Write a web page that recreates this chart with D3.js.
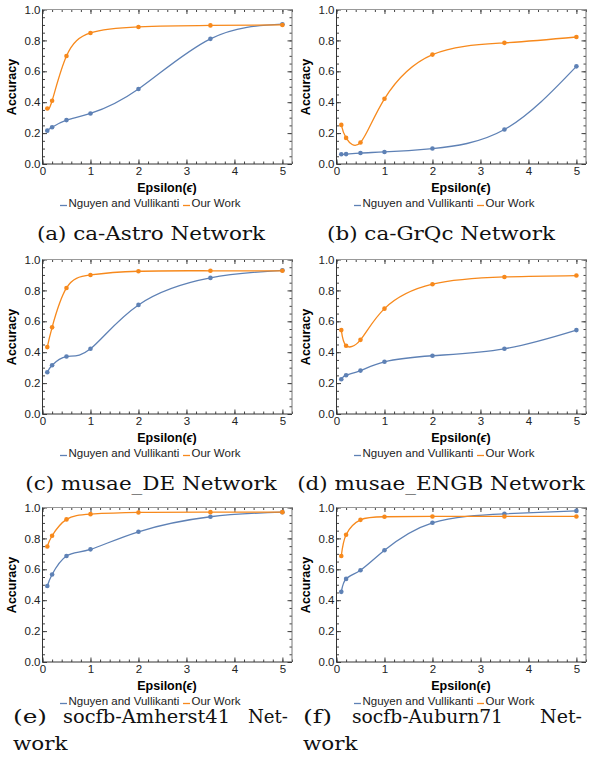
<!doctype html>
<html>
<head>
<meta charset="UTF-8">
<script src="https://cdn.jsdelivr.net/npm/d3@7/dist/d3.min.js"></script>
<style>
  body { margin: 0; background: #fff; }
  .tick text { font-family: "Liberation Sans", Arial, sans-serif; font-size: 11.5px; fill: #222; }
</style>
</head>
<body>
<svg id="fig" width="589" height="767"></svg>
<script>
// x values (privacy budget) shared by all panels
var epsilon = [0.1, 0.2, 0.5, 1, 2, 3.5, 5];

// accuracy
var astroNguyen   = [0.216, 0.238, 0.284, 0.327, 0.485, 0.810, 0.905];
var astroOurs     = [0.359, 0.409, 0.699, 0.848, 0.887, 0.897, 0.900];
var grqcNguyen    = [0.063, 0.064, 0.071, 0.078, 0.100, 0.223, 0.632];
var grqcOurs      = [0.253, 0.169, 0.139, 0.422, 0.708, 0.784, 0.822];
var deNguyen      = [0.270, 0.316, 0.372, 0.422, 0.706, 0.881, 0.930];
var deOurs        = [0.433, 0.561, 0.816, 0.900, 0.924, 0.927, 0.927];
var engbNguyen    = [0.225, 0.251, 0.281, 0.338, 0.377, 0.422, 0.543];
var engbOurs      = [0.543, 0.442, 0.480, 0.682, 0.840, 0.887, 0.896];
var amherstNguyen = [0.492, 0.566, 0.686, 0.729, 0.843, 0.940, 0.970];
var amherstOurs   = [0.748, 0.817, 0.923, 0.957, 0.968, 0.970, 0.970];
var auburnNguyen  = [0.454, 0.538, 0.594, 0.723, 0.901, 0.959, 0.978];
var auburnOurs    = [0.686, 0.824, 0.920, 0.940, 0.942, 0.942, 0.942];

var seriesNames = ["Nguyen and Vullikanti", "Our Work"];
var seriesColors = ["#5e81b5", "#f7891c"];

var yTicks = [0, 0.2, 0.4, 0.6, 0.8, 1.0];
var xTicks = [0, 1, 2, 3, 4, 5];

var panels = [
  {col: 0, row: 0, s: [astroNguyen, astroOurs], caption: ["(a) ca-Astro Network"]},
  {col: 1, row: 0, s: [grqcNguyen, grqcOurs], caption: ["(b) ca-GrQc Network"]},
  {col: 0, row: 1, s: [deNguyen, deOurs], caption: ["(c) musae_DE Network"]},
  {col: 1, row: 1, s: [engbNguyen, engbOurs], caption: ["(d) musae_ENGB Network"]},
  {col: 0, row: 2, s: [amherstNguyen, amherstOurs], caption: ["(e)", "socfb-Amherst41", "Net-", "work"]},
  {col: 1, row: 2, s: [auburnNguyen, auburnOurs], caption: ["(f)", "socfb-Auburn71", "Net-", "work"]}
];

var colX = [0, 294];
var rowY = [0, 250, 498];

var svg = d3.select("#fig");

function minorTicks(lo, hi, step) {
  var out = [];
  for (var v = lo; v <= hi + 1e-9; v += step) out.push(Math.round(v * 1000) / 1000);
  return out;
}

// widen the serif caption text a bit, the original font runs wider
function stretch(sel, w) {
  var len = w || sel.node().getComputedTextLength() * 1.16;
  sel.attr("textLength", len).attr("lengthAdjust", "spacingAndGlyphs");
}

function drawPanel(p) {
  var ox = colX[p.col], oy = rowY[p.row];
  var g = svg.append("g").attr("transform", "translate(" + ox + "," + oy + ")");

  var x = d3.scaleLinear().domain([0, 5.2]).range([42.5, 292]);
  var y = d3.scaleLinear().domain([0, 1]).range([164, 9.5]);

  var xMinor = minorTicks(0, 5.2, 0.2);
  var yMinor = minorTicks(0, 1, 0.05);

  // minor ticks, all four sides
  g.append("g").attr("transform", "translate(0,164)").call(d3.axisBottom(x).tickValues(xMinor).tickSize(-2.5).tickFormat(""));
  g.append("g").attr("transform", "translate(0,9.5)").call(d3.axisTop(x).tickValues(xMinor).tickSize(-2.5).tickFormat(""));
  g.append("g").attr("transform", "translate(42.5,0)").call(d3.axisLeft(y).tickValues(yMinor).tickSize(-2.5).tickFormat(""));
  g.append("g").attr("transform", "translate(292,0)").call(d3.axisRight(y).tickValues(yMinor).tickSize(-2.5).tickFormat(""));

  // major ticks with labels
  g.append("g").attr("transform", "translate(0,164)")
    .call(d3.axisBottom(x).tickValues(xTicks).tickSize(-4.5).tickPadding(3).tickFormat(d3.format("d")));
  g.append("g").attr("transform", "translate(42.5,0)")
    .call(d3.axisLeft(y).tickValues(yTicks).tickSize(-4.5).tickPadding(2).tickFormat(d3.format(".1f")));
  g.append("g").attr("transform", "translate(0,9.5)")
    .call(d3.axisTop(x).tickValues(xTicks).tickSize(-4.5).tickFormat(""));
  g.append("g").attr("transform", "translate(292,0)")
    .call(d3.axisRight(y).tickValues(yTicks).tickSize(-4.5).tickFormat(""));

  g.selectAll(".domain").remove();
  g.selectAll(".tick line").attr("stroke", "#444");

  // frame
  g.append("line").attr("x1", 42.5).attr("x2", 42.5).attr("y1", 9.5).attr("y2", 164).attr("stroke", "#333");
  g.append("line").attr("x1", 42.5).attr("x2", 292).attr("y1", 164).attr("y2", 164).attr("stroke", "#333");
  g.append("line").attr("x1", 42.5).attr("x2", 292).attr("y1", 9.5).attr("y2", 9.5).attr("stroke", "#999");
  g.append("line").attr("x1", 292).attr("x2", 292).attr("y1", 9.5).attr("y2", 164).attr("stroke", "#777");

  var line = d3.line().curve(d3.curveNatural).x(function(d) { return x(d[0]); }).y(function(d) { return y(d[1]); });

  p.s.forEach(function(vals, i) {
    var pts = epsilon.map(function(e, k) { return [e, vals[k]]; });
    g.append("path").attr("d", line(pts)).attr("fill", "none")
      .attr("stroke", seriesColors[i]).attr("stroke-width", 1.3);
    g.selectAll(null).data(pts).enter().append("circle")
      .attr("cx", function(d) { return x(d[0]); })
      .attr("cy", function(d) { return y(d[1]); })
      .attr("r", 2.3).attr("fill", seriesColors[i]);
  });

  // axis titles
  var xt = g.append("text").attr("x", 167).attr("y", 192).attr("text-anchor", "middle")
    .style("font-family", "Liberation Sans, Arial, sans-serif").style("font-weight", "bold").style("font-size", "12.5px");
  xt.append("tspan").text("Epsilon(");
  xt.append("tspan").style("font-style", "italic").text("\u03f5");
  xt.append("tspan").text(")");
  g.append("text").attr("transform", "translate(16,87) rotate(-90)").attr("text-anchor", "middle")
    .style("font-family", "Liberation Sans, Arial, sans-serif").style("font-weight", "bold").style("font-size", "12.5px")
    .text("Accuracy");

  // legend
  var lg = g.append("g").style("font-family", "Liberation Sans, Arial, sans-serif").style("font-size", "11.5px");
  var legX = [60, 183];
  seriesNames.forEach(function(name, i) {
    lg.append("line").attr("x1", legX[i]).attr("x2", legX[i] + 7).attr("y1", 205.5).attr("y2", 205.5)
      .attr("stroke", seriesColors[i]).attr("stroke-width", 1.3);
    lg.append("text").attr("x", legX[i] + 8.5).attr("y", 207).attr("fill", "#222").text(name);
  });

  // caption
  var cap = g.append("g").style("font-family", "DejaVu Serif, serif").style("font-size", "18.5px").attr("fill", "#111");
  if (p.caption.length === 1) {
    stretch(cap.append("text").attr("x", p.col === 0 ? 151 : 147).attr("y", 240).attr("text-anchor", "middle").text(p.caption[0]));
  } else {
    // justified two-line caption: place each word where the original puts it
    var lx = p.col === 0 ? 13 : 9;
    var w = p.col === 0 ? [34, 167, 40] : [29, 151, 42];
    stretch(cap.append("text").attr("x", lx).attr("y", 225).text(p.caption[0]), w[0]);
    stretch(cap.append("text").attr("x", p.col === 0 ? 146.5 : 133.5).attr("y", 225).attr("text-anchor", "middle").text(p.caption[1]), w[1]);
    stretch(cap.append("text").attr("x", 288).attr("y", 225).attr("text-anchor", "end").text(p.caption[2]), w[2]);
    stretch(cap.append("text").attr("x", lx).attr("y", 252).text(p.caption[3]));
  }
}

panels.forEach(drawPanel);
</script>
</body>
</html>
